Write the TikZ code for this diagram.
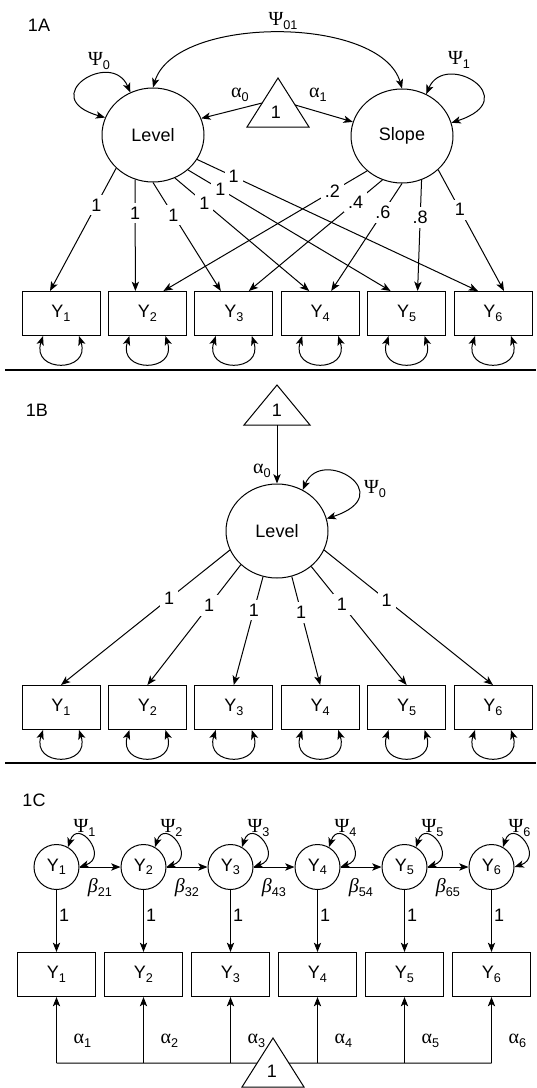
\documentclass[tikz,border=0pt]{standalone}
\usepackage{fontspec}
\setmainfont{Liberation Sans}
\newfontfamily\grk{Liberation Serif}
\usetikzlibrary{arrows.meta,shapes.geometric,calc}
\newcommand\mainsz{\fontsize{13.5pt}{16pt}\selectfont}
\newcommand\gsz{\fontsize{15pt}{16pt}\selectfont}
\newcommand\sbs[1]{\raisebox{-2.6pt}{\fontsize{9.5pt}{10pt}\selectfont #1}}
\newcommand\Psy[1]{{\grk\gsz Ψ}\sbs{#1}}
\newcommand\alf[1]{{\grk\gsz α}\sbs{#1}}
\newcommand\bet[1]{{\grk\gsz\itshape β}\sbs{#1}}
\newcommand\Yv[1]{Y\sbs{#1}}
\begin{document}
\begin{tikzpicture}[x=0.75pt,y=-0.75pt,
  line width=0.75pt,
  >={Stealth[length=7pt,width=5.5pt,inset=1.8pt]},
  every node/.append style={font=\mainsz},
  lat/.style={draw, ellipse, minimum width=76.5pt, minimum height=70.5pt, inner sep=0pt},
  obs/.style={draw, rectangle, minimum width=58.5pt, minimum height=33pt, inner sep=0pt},
  smlat/.style={draw, circle, minimum size=33.75pt, inner sep=0pt},
  wt/.style={fill=white, inner sep=3pt},
  rule/.style={line width=1.2pt},
  tri/.style={draw, line join=miter}]
\useasboundingbox (0,0) rectangle (536,1088);

% panel titles
\node (pA) at (39,25) {1A};
\node (pB) at (37,410) {1B};
\node (pC) at (34,800) {1C};

% separators
\coordinate (s1a) at (5,370);  \coordinate (s1b) at (536,370);
\coordinate (s2a) at (5,763);  \coordinate (s2b) at (536,763);
\draw[rule] (s1a) -- (s1b);
\draw[rule] (s2a) -- (s2b);

% ---------------- 1A : level and slope ----------------
\node[lat] (La) at (153,135) {Level};
\node[lat] (Sa) at (402,136) {Slope};
\coordinate (TaT) at (278,78); \coordinate (TaL) at (247,127); \coordinate (TaR) at (309,127);
\draw[tri] (TaT) -- (TaL) -- (TaR) -- cycle;
\node (Ta) at (276,112) {1};
\coordinate (TaoL) at ($(TaL)!0.49!(TaT)$);
\coordinate (TaoR) at ($(TaR)!0.45!(TaT)$);
\draw[->] (TaoL) -- (La.19);
\draw[->] (TaoR) -- (Sa.164);
\node (a0a) at (240,95) {\alf0};
\node (a1a) at (318,95) {\alf1};

\draw[<->] (La.90) .. controls (175,15) and (381,15) .. (Sa.90);
\node (p01) at (283,21) {\Psy{01}};
\draw[<->] (La.160) .. controls +(-70,-20) and +(-19,-44) .. (La.118);
\node (p0a) at (99,61) {\Psy0};
\draw[<->] (Sa.60) .. controls +(19,-44) and +(74,-24) .. (Sa.15);
\node (p1a) at (459,60) {\Psy1};

\foreach \i/\x in {1/61,2/147.4,3/233.8,4/320.2,5/406.6,6/493} {
  \node[obs] (Ya\i) at (\x,313.5) {\Yv{\i}};
  \draw[<->] ($(Ya\i.south)+(-18,0)$) .. controls +(-12,37) and +(12,37) .. ($(Ya\i.south)+(18,0)$);
}

\draw[->] (La.222) -- node[wt,pos=0.30]{1} ($(Ya1.north)+(-11,0)$);
\draw[->] (La.248) -- node[wt,pos=0.30]{1} ($(Ya2.north)+(-12,0)$);
\draw[->] (La.270) -- node[wt,pos=0.30]{1} ($(Ya3.north)+(-13,0)$);
\draw[->] (La.297) -- node[wt,pos=0.22]{1} ($(Ya4.north)+(-11,0)$);
\draw[->] (La.315) -- node[wt,pos=0.16]{1} ($(Ya5.north)+(-16,0)$);
\draw[->] (La.331) -- node[wt,pos=0.13]{1} ($(Ya6.north)+(-15,0)$);

\draw[->] (Sa.225) -- node[wt,pos=0.17]{.2} ($(Ya2.north)+(16,0)$);
\draw[->] (Sa.246) -- node[wt,pos=0.20]{.4} ($(Ya3.north)+(15,0)$);
\draw[->] (Sa.270) -- node[wt,pos=0.27]{.6} ($(Ya4.north)+(11,0)$);
\draw[->] (Sa.294) -- node[wt,pos=0.34]{.8} ($(Ya5.north)+(11,0)$);
\draw[->] (Sa.317) -- node[wt,pos=0.33]{1} ($(Ya6.north)+(11,0)$);

% ---------------- 1B : level only ----------------
\coordinate (TbT) at (277,385); \coordinate (TbL) at (244,425); \coordinate (TbR) at (310,425);
\draw[tri] (TbT) -- (TbL) -- (TbR) -- cycle;
\node (Tb) at (277,410) {1};
\coordinate (TbB) at ($(TbL)!0.5!(TbR)$);
\node[lat] (Lb) at (277,531) {Level};
\draw[->] (TbB) -- (Lb.90);
\node (a0b) at (262,471) {\alf0};
\draw[<->] (Lb.58) .. controls +(19,-44) and +(74,-24) .. (Lb.14);
\node (p0b) at (375,489) {\Psy0};

\foreach \i/\x in {1/61,2/147.4,3/233.8,4/320.2,5/406.6,6/493} {
  \node[obs] (Yb\i) at (\x,707.5) {\Yv{\i}};
  \draw[<->] ($(Yb\i.south)+(-18,0)$) .. controls +(-12,37) and +(12,37) .. ($(Yb\i.south)+(18,0)$);
}
\draw[->] (Lb.202) -- node[wt,pos=0.36]{1} (Yb1.north);
\draw[->] (Lb.223) -- node[wt,pos=0.34]{1} (Yb2.north);
\draw[->] (Lb.253) -- node[wt,pos=0.31]{1} (Yb3.north);
\draw[->] (Lb.288) -- node[wt,pos=0.33]{1} (Yb4.north);
\draw[->] (Lb.314) -- node[wt,pos=0.32]{1} (Yb5.north);
\draw[->] (Lb.338) -- node[wt,pos=0.37]{1} (Yb6.north);

% ---------------- 1C : autoregressive chain ----------------
\foreach \i in {1,...,6} {
  \pgfmathsetmacro{\x}{56.5+87*(\i-1)}
  \node[smlat] (Yc\i) at (\x,867) {\Yv{\i}};
  \node[obs] (Yo\i) at (\x,974.5) {\Yv{\i}};
  \draw[<->] (Yc\i.60) .. controls +(10,-30) and +(30,-10) .. (Yc\i.0);
  \node (ps\i) at (\x+28,828) {\Psy{\i}};
  \draw[->] (Yc\i.south) -- node[right, pos=0.41, inner sep=1.5pt]{1} (Yo\i.north);
  \coordinate (bus\i) at (\x,1063);
  \draw[->] (bus\i) -- (Yo\i.south);
  \node (al\i) at (\x+26,1041) {\alf{\i}};
}
\foreach \i/\j in {1/2,2/3,3/4,4/5,5/6} {
  \draw[->] (Yc\i.east) -- (Yc\j.west);
  \node (b\j\i) at ($(Yc\i.east)!0.5!(Yc\j.west)+(0,21)$) {\bet{\j\i}};
}

\coordinate (TcT) at (273,1038); \coordinate (TcL) at (242,1087); \coordinate (TcR) at (304,1087);
\draw[tri] (TcT) -- (TcL) -- (TcR) -- cycle;
\node (Tc) at (272,1071) {1};
\coordinate (TcoL) at ($(TcL)!0.49!(TcT)$);
\coordinate (TcoR) at ($(TcR)!0.49!(TcT)$);
\draw (bus1) -- (TcoL);
\draw (TcoR) -- (bus6);
\end{tikzpicture}
\end{document}
